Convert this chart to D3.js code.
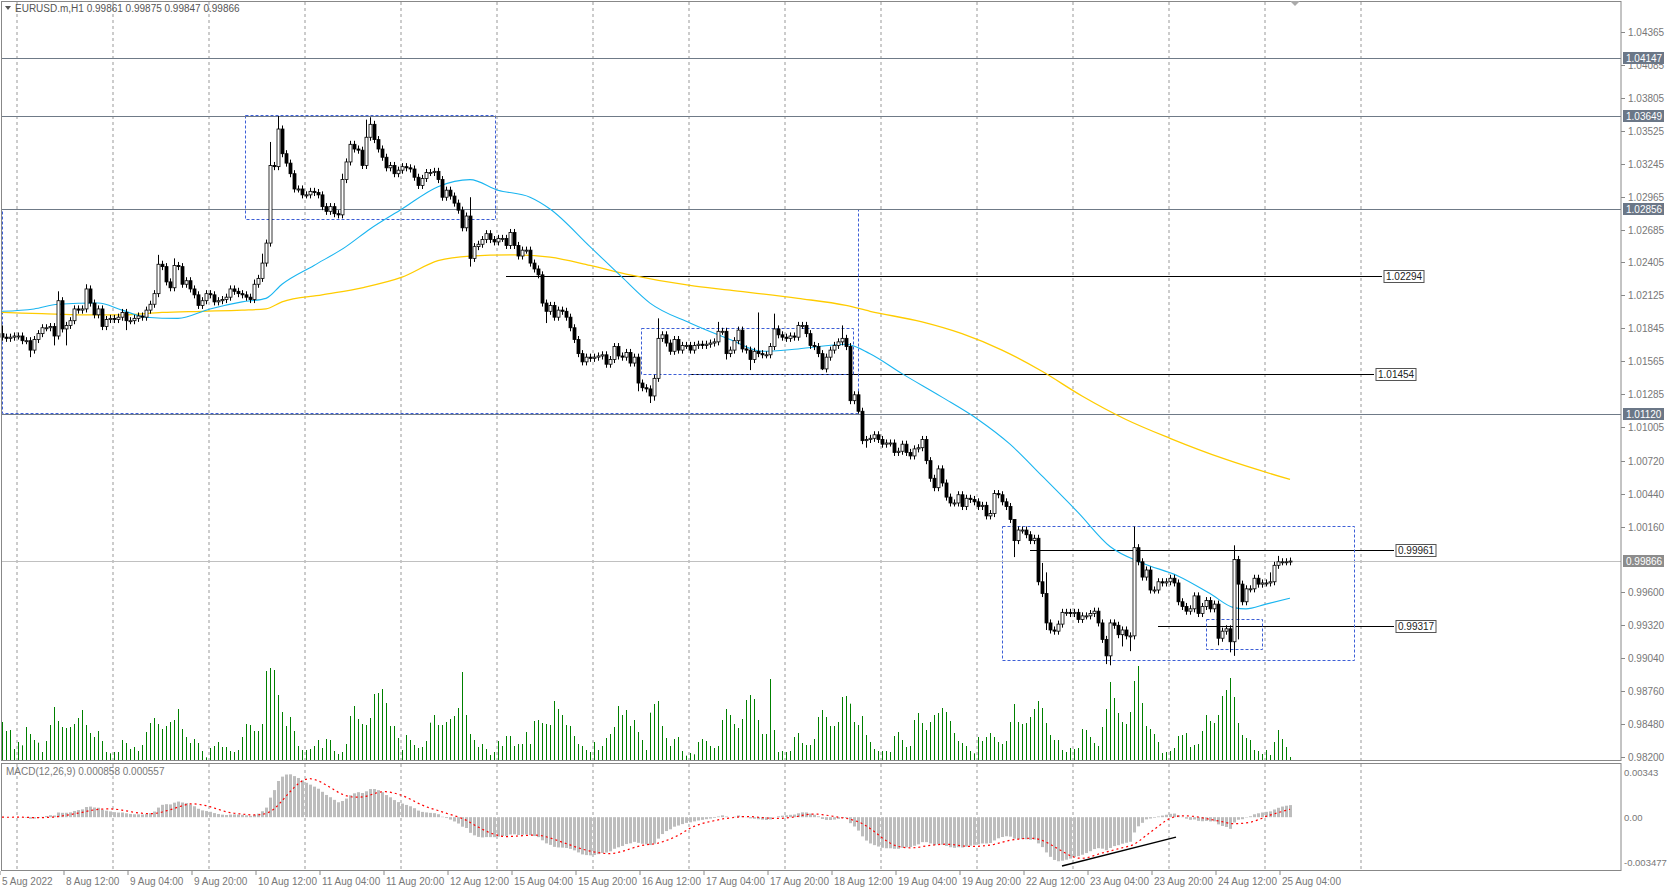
<!DOCTYPE html>
<html>
<head>
<meta charset="utf-8">
<script src="https://cdn.jsdelivr.net/npm/d3@7"></script>
<style>
  body { margin: 0; background: #fff; }
  text { font-family: "Liberation Sans", Arial, sans-serif; font-size: 10px; }
</style>
</head>
<body>
<div id="chart"></div>
<script>
// hourly closes, 5 Aug 2022 20:00 .. 25 Aug 2022 06:00
var closes = [
1.0177,1.0176,1.0177,1.0178,1.0178,1.0174,1.0174,1.0166,1.0175,1.0180,
1.0185,1.0185,1.0186,1.0178,1.0208,1.0184,1.0187,1.0191,1.0201,1.0200,
1.0201,1.0218,1.0206,1.0196,1.0201,1.0186,1.0192,1.0193,1.0192,1.0194,
1.0198,1.0191,1.0191,1.0193,1.0195,1.0194,1.0200,1.0205,1.0214,1.0239,
1.0237,1.0224,1.0219,1.0238,1.0237,1.0222,1.0225,1.0218,1.0213,1.0204,
1.0208,1.0214,1.0213,1.0207,1.0208,1.0209,1.0211,1.0218,1.0216,1.0214,
1.0213,1.0211,1.0209,1.0222,1.0227,1.0240,1.0257,1.0323,1.0322,1.0354,
1.0333,1.0325,1.0316,1.0303,1.0303,1.0298,1.0298,1.0301,1.0300,1.0298,
1.0288,1.0284,1.0288,1.0282,1.0281,1.0311,1.0326,1.0341,1.0337,1.0336,
1.0323,1.0347,1.0358,1.0345,1.0337,1.0330,1.0321,1.0323,1.0316,1.0319,
1.0322,1.0321,1.0320,1.0313,1.0306,1.0312,1.0317,1.0317,1.0318,1.0311,
1.0296,1.0302,1.0297,1.0291,1.0285,1.0270,1.0280,1.0244,1.0254,1.0256,
1.0260,1.0265,1.0260,1.0258,1.0261,1.0261,1.0255,1.0266,1.0255,1.0246,
1.0251,1.0251,1.0240,1.0235,1.0230,1.0206,1.0199,1.0204,1.0194,1.0200,
1.0199,1.0194,1.0185,1.0175,1.0163,1.0156,1.0160,1.0159,1.0160,1.0161,
1.0162,1.0154,1.0158,1.0169,1.0161,1.0160,1.0164,1.0155,1.0160,1.0138,
1.0134,1.0133,1.0127,1.0142,1.0176,1.0179,1.0172,1.0165,1.0175,1.0166,
1.0170,1.0170,1.0166,1.0170,1.0171,1.0170,1.0171,1.0172,1.0173,1.0182,
1.0182,1.0163,1.0166,1.0174,1.0183,1.0167,1.0166,1.0158,1.0165,1.0163,
1.0162,1.0162,1.0169,1.0184,1.0179,1.0177,1.0176,1.0178,1.0177,1.0187,
1.0187,1.0180,1.0170,1.0169,1.0163,1.0150,1.0160,1.0166,1.0170,1.0173,
1.0176,1.0169,1.0123,1.0128,1.0114,1.0089,1.0090,1.0091,1.0094,1.0090,
1.0086,1.0087,1.0087,1.0079,1.0080,1.0086,1.0079,1.0076,1.0082,1.0083,
1.0090,1.0072,1.0057,1.0049,1.0065,1.0053,1.0041,1.0036,1.0036,1.0043,
1.0033,1.0040,1.0039,1.0037,1.0033,1.0034,1.0025,1.0027,1.0044,1.0043,
1.0037,1.0033,1.0022,1.0004,1.0013,1.0013,1.0009,1.0004,1.0006,0.9969,
0.9959,0.9934,0.9928,0.9927,0.9933,0.9943,0.9943,0.9942,0.9943,0.9937,
0.9940,0.9940,0.9942,0.9944,0.9934,0.9920,0.9906,0.9934,0.9932,0.9924,
0.9928,0.9923,0.9923,0.9998,0.9986,0.9973,0.9979,0.9962,0.9962,0.9969,
0.9968,0.9969,0.9972,0.9968,0.9952,0.9948,0.9944,0.9946,0.9957,0.9942,
0.9948,0.9953,0.9946,0.9950,0.9921,0.9927,0.9929,0.9918,0.9988,0.9967,
0.9952,0.9963,0.9963,0.9972,0.9967,0.9968,0.9968,0.9969,0.9983,0.9986,
0.9986,0.9986,0.99866];
var firstOpen = 1.0180;

// wicks that stick out (bar index, price); others use a small wick
var highs = [[0,1.0187],[14,1.0216],[16,1.0190],[21,1.0222],[39,1.0247],[43,1.0244],[63,1.0226],[65,1.0248],
  [67,1.0343],[69,1.0365],[85,1.0316],[91,1.0362],[92,1.0364],[117,1.0296],[164,1.0193],[179,1.0190],
  [189,1.0198],[193,1.0197],[199,1.0190],[210,1.0187],[218,1.0097],[231,1.0093],[253,1.0014],[260,0.9985],
  [261,0.9977],[283,1.0016],[308,1.0000],[317,0.9977],[319,0.9991]];
var lows = [[7,1.0160],[13,1.0170],[16,1.0170],[31,1.0183],[117,1.0237],[136,1.0189],[159,1.0131],[162,1.0121],
  [163,1.0123],[181,1.0158],[187,1.0149],[205,1.0149],[214,1.0112],[216,1.0083],[253,0.9990],[261,0.9928],
  [276,0.9899],[277,0.9898],[280,0.9914],[282,0.9910],[283,0.9920],[304,0.9915],[307,0.9909],[308,0.9906],[309,0.9920]];

var volumes = [
114,87,90,33,
54,44,99,78,60,52,24,57,105,159,117,99,96,99,108,126,150,105,81,69,87,57,24,20,
24,24,60,51,33,39,27,45,84,111,126,108,93,102,114,120,153,93,69,51,63,51,27,8,
36,42,54,39,39,27,24,30,69,108,105,87,87,108,267,276,270,195,144,102,129,87,42,30,
30,33,42,60,36,63,60,27,18,24,48,132,162,123,108,105,126,198,201,213,171,102,102,66,
30,75,60,45,36,39,57,112,135,105,105,114,123,132,156,264,135,78,60,39,48,33,15,24,
57,42,72,72,42,48,48,84,48,117,120,111,108,105,177,153,135,105,102,72,48,42,30,24,
54,30,42,66,78,99,162,135,150,102,120,84,60,30,
142,168,177,102,66,42,63,69,27,13,
21,17,54,63,57,42,36,42,120,153,135,108,96,123,180,195,183,120,78,78,243,90,24,27,
24,27,69,81,51,45,45,63,129,150,129,102,102,114,189,192,169,114,105,132,75,54,33,27,
27,27,24,72,84,60,39,42,120,141,111,90,114,135,141,156,144,117,81,57,51,42,27,20,
69,57,69,81,69,54,48,57,114,168,114,108,111,129,153,177,156,111,75,60,60,30,24,36,
33,36,93,90,69,51,42,99,153,234,186,141,114,108,144,237,282,171,102,93,78,54,21,24,
27,36,72,75,81,39,45,48,87,135,117,111,135,192,210,246,189,111,75,66,60,30,27,18,
30,15,54,90,63,39,9];

// moving averages (bar index, value)
var maFast = [[0,1.0199],[8,1.0201],[14,1.0205],[24,1.0206],[30,1.0200],[36,1.0194],[44,1.0193],[52,1.0201],
  [60,1.0207],[66,1.0210],[70,1.0222],[78,1.0238],[86,1.0254],[92,1.0269],[100,1.0286],[109,1.0305],
  [117,1.0311],[124,1.0302],[132,1.0296],[137,1.0286],[147,1.0254],[155,1.0228],[162,1.0206],[172,1.0189],
  [182,1.0175],[190,1.0165],[199,1.0167],[211,1.0171],[217,1.0163],[225,1.0146],[235,1.0126],[244,1.0107],
  [252,1.0086],[260,1.0059],[269,1.0028],[277,0.9999],[285,0.9985],[294,0.9974],[302,0.9959],[308,0.9947],
  [311,0.9946],[316,0.9950],[322,0.9955]];
var maSlow = [[0,1.0198],[10,1.0197],[20,1.0196],[30,1.0196],[40,1.0198],[50,1.0199],[60,1.0200],[66,1.0201],
  [70,1.0207],[80,1.0213],[90,1.0219],[100,1.0228],[109,1.0242],[117,1.0246],[128,1.0247],[137,1.0245],
  [147,1.0238],[157,1.0230],[172,1.0221],[182,1.0217],[199,1.0210],[211,1.0204],[217,1.0199],[230,1.0190],
  [240,1.0180],[250,1.0166],[260,1.0148],[270,1.0127],[281,1.0107],[292,1.0091],[306,1.0073],[322,1.0056]];

var priceTicks = ["1.04365","1.04085","1.03805","1.03525","1.03245","1.02965","1.02685","1.02405","1.02125",
  "1.01845","1.01565","1.01285","1.01005","1.00720","1.00440","1.00160","0.99600","0.99320","0.99040",
  "0.98760","0.98480","0.98200"];
var levelLines = [1.04147, 1.03649, 1.02856, 1.01120];
var bidPrice = 0.99866;

// user trend lines: [fromBar, toBar, price]
var trendLines = [[126, 345, 1.02294], [171.75, 343, 1.01454], [257, 348, 0.99961], [289, 348, 0.99317]];
// dashed rectangles: [fromBar, toBar, top, bottom]
var boxes = [[60.75, 123.25, 1.0366, 1.02775], [0, 214, 1.02856, 1.01120], [159.75, 212.75, 1.01845, 1.01454],
  [250, 338, 1.00162, 0.99020], [301, 315, 0.99374, 0.99119]];
var macdTrend = [[265, -0.00355], [293.5, -0.00145]];

var timeLabels = ["5 Aug 2022","8 Aug 12:00","9 Aug 04:00","9 Aug 20:00","10 Aug 12:00","11 Aug 04:00",
  "11 Aug 20:00","12 Aug 12:00","15 Aug 04:00","15 Aug 20:00","16 Aug 12:00","17 Aug 04:00","17 Aug 20:00",
  "18 Aug 12:00","19 Aug 04:00","19 Aug 20:00","22 Aug 12:00","23 Aug 04:00","23 Aug 20:00","24 Aug 12:00",
  "25 Aug 04:00"];
var midnightBars = [4, 28, 52, 76, 100, 124, 148, 172, 196, 220, 244, 268, 292, 316, 340];

var W = 1668, H = 890, axisX = 1621;
var svg = d3.select("#chart").append("svg").attr("width", W).attr("height", H);
svg.append("rect").attr("width", W).attr("height", H).attr("fill", "#fff");

var x = d3.scaleLinear().domain([0, 1]).range([2, 6]);
var y = d3.scaleLinear().domain([0.98200, 1.04365]).range([757, 32]);
var yv = d3.scaleLinear().domain([0, 300]).range([760, 660]);
var ym = d3.scaleLinear().domain([-0.003477, 0.00343]).range([865, 770]);

//Build candles.
var hiMap = new Map(highs), loMap = new Map(lows);
var bars = closes.map(function(c, i) {
  var o = i === 0 ? firstOpen : closes[i - 1];
  var h = hiMap.has(i) ? hiMap.get(i) : Math.max(o, c) + 0.0003;
  var l = loMap.has(i) ? loMap.get(i) : Math.min(o, c) - 0.0003;
  return {i: i, o: o, h: Math.max(h, o, c), l: Math.min(l, o, c), c: c};
});

//MACD(12,26,9): main = EMA12 - EMA26, signal = SMA9 of main.
var e12 = closes[0], e26 = closes[0], macd = [], signal = [];
closes.forEach(function(c, i) {
  e12 = e12 + (2 / 13) * (c - e12);
  e26 = e26 + (2 / 27) * (c - e26);
  macd.push(e12 - e26);
  signal.push(d3.mean(macd.slice(Math.max(0, i - 8))));
});

//Grid.
svg.append("g").selectAll("line").data(midnightBars).enter().append("line")
  .attr("x1", function(d) { return x(d) - 1; }).attr("x2", function(d) { return x(d) - 1; })
  .attr("y1", 2).attr("y2", 871)
  .attr("stroke", "#999").attr("stroke-dasharray", "3,3");

//Volumes.
svg.append("g").selectAll("line").data(volumes).enter().append("line")
  .attr("x1", function(d, i) { return x(i) + 0.5; }).attr("x2", function(d, i) { return x(i) + 0.5; })
  .attr("y1", yv(0)).attr("y2", function(d) { return yv(d); })
  .attr("stroke", "#008000");

//Trend lines.
var tl = svg.append("g");
trendLines.forEach(function(t) {
  var yy = Math.round(y(t[2])) + 0.5;
  tl.append("line").attr("x1", x(t[0])).attr("x2", x(t[1])).attr("y1", yy).attr("y2", yy).attr("stroke", "#000");
  tl.append("rect").attr("x", x(t[1]) + 2).attr("y", yy - 6).attr("width", 40).attr("height", 12)
    .attr("fill", "#fff").attr("stroke", "#555");
  tl.append("text").attr("x", x(t[1]) + 4).attr("y", yy + 3.5).attr("fill", "#222").text(t[2].toFixed(5));
});

//Dashed boxes.
svg.append("g").selectAll("rect").data(boxes).enter().append("rect")
  .attr("x", function(d) { return Math.round(x(d[0])) + 0.5; })
  .attr("width", function(d) { return Math.round(x(d[1]) - x(d[0])); })
  .attr("y", function(d) { return Math.round(y(d[2])) + 0.5; })
  .attr("height", function(d) { return Math.round(y(d[3]) - y(d[2])); })
  .attr("fill", "none").attr("stroke", "#3d5fd6").attr("stroke-dasharray", "3,2");

//Level lines.
svg.append("g").selectAll("line").data(levelLines).enter().append("line")
  .attr("x1", 2).attr("x2", axisX)
  .attr("y1", function(d) { return Math.round(y(d)) + 0.5; }).attr("y2", function(d) { return Math.round(y(d)) + 0.5; })
  .attr("stroke", "#6f7a87");
svg.append("line").attr("x1", 2).attr("x2", axisX)
  .attr("y1", Math.round(y(bidPrice)) + 0.5).attr("y2", Math.round(y(bidPrice)) + 0.5)
  .attr("stroke", "#c0c0c0");

//Moving averages.
var maLine = d3.line().x(function(d) { return x(d[0]); }).y(function(d) { return y(d[1]); }).curve(d3.curveMonotoneX);
svg.append("path").attr("d", maLine(maSlow)).attr("fill", "none").attr("stroke", "#ffcc00").attr("stroke-width", 1.3);
svg.append("path").attr("d", maLine(maFast)).attr("fill", "none").attr("stroke", "#1ab5f0").attr("stroke-width", 1.1);

//Candles.
var cg = svg.append("g");
cg.selectAll("line").data(bars).enter().append("line")
  .attr("x1", function(d) { return x(d.i) + 0.5; }).attr("x2", function(d) { return x(d.i) + 0.5; })
  .attr("y1", function(d) { return y(d.h); }).attr("y2", function(d) { return y(d.l); })
  .attr("stroke", "#000");
cg.selectAll("rect").data(bars).enter().append("rect")
  .attr("x", function(d) { return x(d.i) - 1; }).attr("width", 3)
  .attr("y", function(d) { return y(Math.max(d.o, d.c)); })
  .attr("height", function(d) { return Math.max(1, y(Math.min(d.o, d.c)) - y(Math.max(d.o, d.c))); })
  .attr("fill", function(d) { return d.c >= d.o ? "#fff" : "#000"; })
  .attr("stroke", "#000").attr("stroke-width", 0.8);

//MACD panel.
svg.append("g").selectAll("rect").data(macd).enter().append("rect")
  .attr("x", function(d, i) { return x(i) - 1; }).attr("width", 3)
  .attr("y", function(d) { return Math.min(ym(d), ym(0)); })
  .attr("height", function(d) { return Math.abs(ym(d) - ym(0)); })
  .attr("fill", "#bdbdbd");
svg.append("path").attr("d", d3.line().x(function(d, i) { return x(i); }).y(function(d) { return ym(d); })(signal))
  .attr("fill", "none").attr("stroke", "#ff0000").attr("stroke-dasharray", "2,3").attr("stroke-width", 1.2);
svg.append("line").attr("x1", x(macdTrend[0][0])).attr("y1", ym(macdTrend[0][1]))
  .attr("x2", x(macdTrend[1][0])).attr("y2", ym(macdTrend[1][1])).attr("stroke", "#000").attr("stroke-width", 1.5);

//Frames.
svg.append("rect").attr("x", 1.5).attr("y", 1.5).attr("width", axisX - 1.5).attr("height", 759)
  .attr("fill", "none").attr("stroke", "#888");
svg.append("rect").attr("x", 1.5).attr("y", 763.5).attr("width", axisX - 1.5).attr("height", 107)
  .attr("fill", "none").attr("stroke", "#888");
svg.append("path").attr("d", "M1290,1 L1300,1 L1295,6 Z").attr("fill", "#aaa");

//Price axis.
var pa = svg.append("g");
priceTicks.forEach(function(t) {
  var yy = Math.round(y(+t)) + 0.5;
  pa.append("line").attr("x1", axisX).attr("x2", axisX + 4).attr("y1", yy).attr("y2", yy).attr("stroke", "#888");
  pa.append("text").attr("x", axisX + 7).attr("y", yy + 3.5).attr("fill", "#777").text(t);
});
levelLines.concat([bidPrice]).forEach(function(v, k) {
  var yy = Math.round(y(v));
  pa.append("rect").attr("x", axisX + 2).attr("y", yy - 6).attr("width", 41).attr("height", 12)
    .attr("fill", k < 4 ? "#6b7787" : "#8c8c8c");
  pa.append("text").attr("x", axisX + 5).attr("y", yy + 4).attr("fill", "#fff").text(v.toFixed(5));
});
[[0.00343, "0.00343", 6], [0, "0.00", 3.5], [-0.003477, "-0.003477", 1]].forEach(function(m) {
  pa.append("text").attr("x", axisX + 3).attr("y", ym(m[0]) + m[2]).attr("fill", "#777")
    .style("font-size", "9.5px").text(m[1]);
});

//Time axis.
var ta = svg.append("g");
timeLabels.forEach(function(t, k) {
  var xx = x(k * 16) - 2;
  ta.append("line").attr("x1", xx).attr("x2", xx).attr("y1", 871).attr("y2", 875).attr("stroke", "#888");
  ta.append("text").attr("x", xx + 2).attr("y", 885).attr("fill", "#777").text(t);
});

//Headers.
svg.append("path").attr("d", "M5,6 L11,6 L8,10 Z").attr("fill", "#555");
svg.append("text").attr("x", 15).attr("y", 12).attr("fill", "#555").text("EURUSD.m,H1  0.99861 0.99875 0.99847 0.99866");
svg.append("text").attr("x", 6).attr("y", 775).attr("fill", "#777").text("MACD(12,26,9) 0.000858 0.000557");
</script>
</body>
</html>
